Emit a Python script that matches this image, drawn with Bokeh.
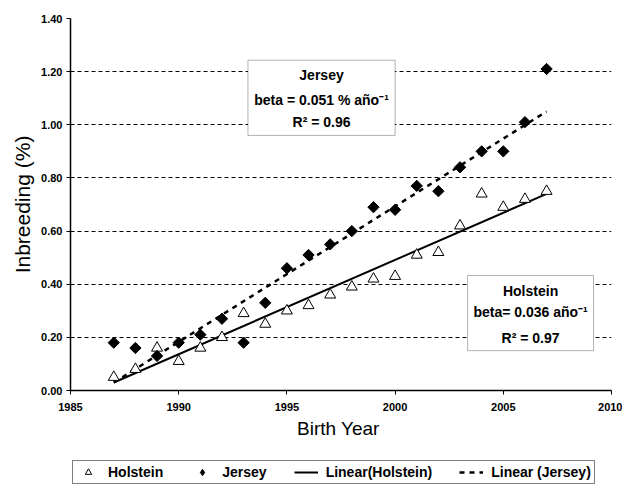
from bokeh.plotting import figure
from bokeh.layouts import column
from bokeh.models import (Range1d, FixedTicker, NumeralTickFormatter, BoxAnnotation,
                          Label, Legend, LegendItem)
from bokeh.embed import file_html
from bokeh.resources import INLINE
import math

# ---- data ----
years = list(range(1987, 2008))
holstein = [0.05, 0.08, 0.16, 0.11, 0.16, 0.20, 0.29, 0.25, 0.30, 0.32, 0.36,
            0.39, 0.42, 0.43, 0.51, 0.52, 0.62, 0.74, 0.69, 0.72, 0.75]
jersey = [0.18, 0.16, 0.13, 0.18, 0.21, 0.27, 0.18, 0.33, 0.46, 0.51, 0.55,
          0.60, 0.69, 0.68, 0.77, 0.75, 0.84, 0.90, 0.90, 1.01, 1.21]
trend_years = [1987, 2007]
holstein_trend = [0.03, 0.74]
jersey_trend = [0.03, 1.05]
x_ticks = [1985, 1990, 1995, 2000, 2005, 2010]
y_ticks = [0.0, 0.2, 0.4, 0.6, 0.8, 1.0, 1.2, 1.4]

FONT = "Liberation Sans"

p = figure(width=622, height=450, output_backend="svg", toolbar_location=None,
           x_range=Range1d(1985, 2010), y_range=Range1d(0, 1.4),
           min_border_left=70, min_border_right=11, min_border_top=18,
           min_border_bottom=60, background_fill_color="white",
           border_fill_color="white")
p.outline_line_color = None

# axes
p.xaxis.ticker = FixedTicker(ticks=x_ticks)
p.yaxis.ticker = FixedTicker(ticks=y_ticks)
p.yaxis.formatter = NumeralTickFormatter(format="0.00")
for ax in (p.xaxis[0], p.yaxis[0]):
    ax.axis_line_color = "black"
    ax.axis_line_width = 1.5
    ax.major_tick_line_color = "black"
    ax.major_tick_line_width = 1
    ax.major_tick_in = 0
    ax.major_tick_out = 4
    ax.minor_tick_line_color = None
    ax.major_label_text_font = FONT
    ax.major_label_text_font_style = "bold"
    ax.major_label_text_font_size = "11px"
    ax.major_label_text_color = "black"
    ax.axis_label_text_font = FONT
    ax.axis_label_text_font_style = "normal"
    ax.axis_label_text_color = "black"
p.xaxis.axis_label = "Birth  Year"
p.yaxis.axis_label = "Inbreeding (%)"
p.xaxis.axis_label_text_font_size = "19px"
p.yaxis.axis_label_text_font_size = "21px"
p.xaxis.major_label_standoff = 8
p.yaxis.major_label_standoff = 4
p.xaxis.axis_label_standoff = 4
p.yaxis.axis_label_standoff = 4

# grid
p.xgrid.grid_line_color = None
p.ygrid.grid_line_color = "black"
p.ygrid.grid_line_dash = "4 3"
p.ygrid.grid_line_width = 1

# trend lines
r_ht = p.line(trend_years, holstein_trend, line_color="black", line_width=2)
r_jt = p.line(trend_years, jersey_trend, line_color="black", line_width=2.5,
              line_dash="5 5")

# points
r_h = p.scatter(years, holstein, marker="triangle", size=11, fill_color="white",
                line_color="black", line_width=1)
r_j = p.scatter(years, jersey, marker="square", size=8, angle=math.pi / 4,
                fill_color="black", line_color="black")

# annotation boxes
p.add_layout(BoxAnnotation(left=1993.2, right=2000.0, bottom=0.96, top=1.243,
                           fill_color="white", fill_alpha=1, line_color="black",
                           line_width=1))
p.add_layout(BoxAnnotation(left=2003.35, right=2009.17, bottom=0.15, top=0.433,
                           fill_color="white", fill_alpha=1, line_color="black",
                           line_width=1))

def add_text(x, y, t):
    p.add_layout(Label(x=x, y=y, text=t, text_align="center",
                       text_baseline="middle", text_font=FONT,
                       text_font_style="bold", text_font_size="14px",
                       text_color="black"))

add_text(1996.6, 1.186, "Jersey")
add_text(1996.6, 1.095, "beta = 0.051 % año\u207b\u00b9")
add_text(1996.6, 1.012, "R\u00b2 = 0.96")
add_text(2006.26, 0.376, "Holstein")
add_text(2006.26, 0.294, "beta= 0.036 año\u207b\u00b9")
add_text(2006.26, 0.199, "R\u00b2 = 0.97")

# ---- legend strip (its glyphs come from the same series, outside its view) ----
lg = figure(width=622, height=35, output_backend="svg", toolbar_location=None,
            x_range=Range1d(0, 1), y_range=Range1d(0, 1),
            x_axis_type=None, y_axis_type=None, min_border=0,
            background_fill_color="white", border_fill_color="white")
lg.outline_line_color = None
lg.xgrid.grid_line_color = None
lg.ygrid.grid_line_color = None
l_h = lg.scatter(years, holstein, marker="triangle", size=11, fill_color="white",
                 line_color="black", line_width=1)
l_j = lg.scatter(years, jersey, marker="diamond", size=11,
                 fill_color="black", line_color="black")
l_ht = lg.line(trend_years, holstein_trend, line_color="black", line_width=2)
l_jt = lg.line(trend_years, jersey_trend, line_color="black", line_width=2.5,
               line_dash="5 5")

legend = Legend(items=[
    LegendItem(label="Holstein", renderers=[l_h]),
    LegendItem(label="Jersey", renderers=[l_j]),
    LegendItem(label="Linear(Holstein)", renderers=[l_ht]),
    LegendItem(label="Linear (Jersey)", renderers=[l_jt]),
], orientation="horizontal", location=(2, 1))
legend.border_line_color = "black"
legend.border_line_width = 1
legend.background_fill_color = "white"
legend.background_fill_alpha = 1
legend.label_text_font = FONT
legend.label_text_font_style = "bold"
legend.label_text_font_size = "14px"
legend.label_text_color = "black"
legend.glyph_width = 24
legend.glyph_height = 16
legend.label_standoff = 8
legend.spacing = 27
legend.padding = 3
legend.margin = 0
lg.add_layout(legend)

layout = column(p, lg, spacing=0)
open("out.html", "w").write(file_html(layout, INLINE))
